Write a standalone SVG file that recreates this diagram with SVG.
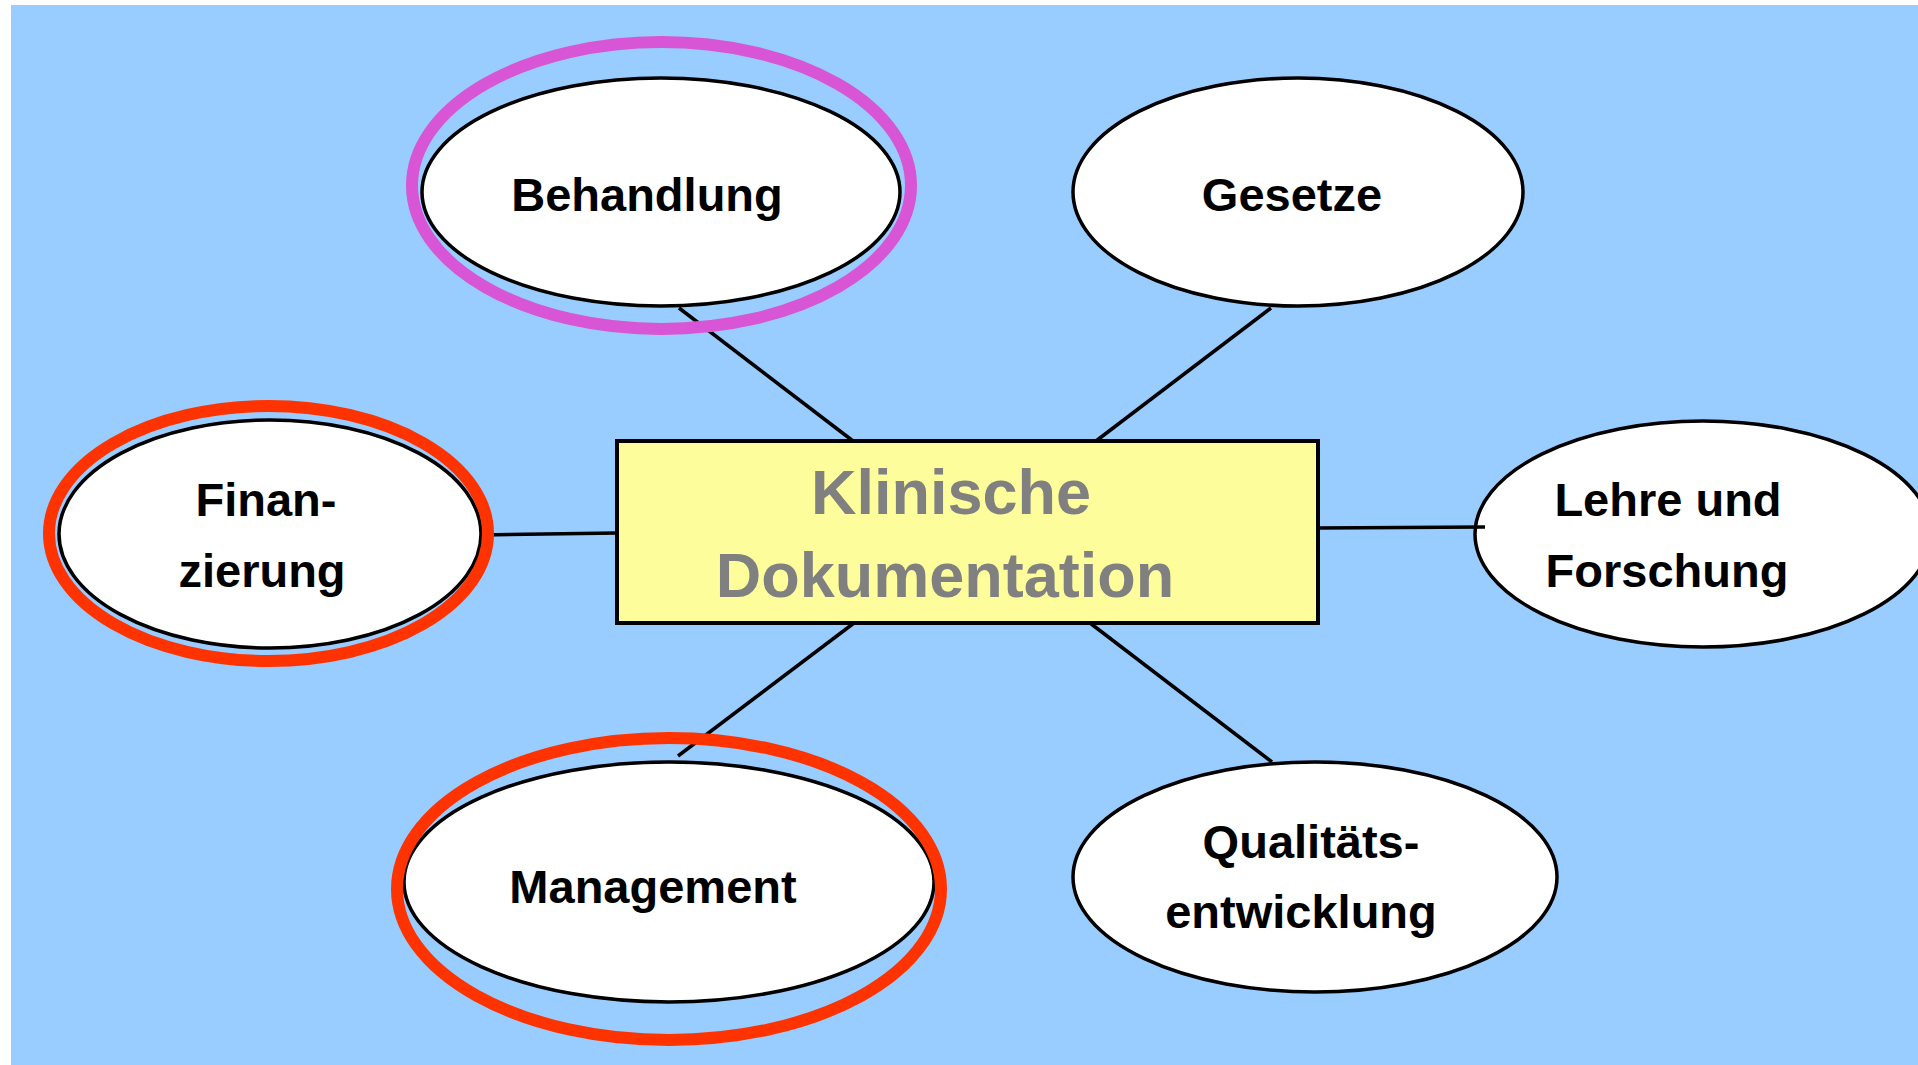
<svg xmlns="http://www.w3.org/2000/svg" width="1918" height="1065" viewBox="0 0 1918 1065">
<style>
.node{fill:#fff;stroke:#000;stroke-width:3.5}
.lbl{font-family:"Liberation Sans",Arial,sans-serif;font-weight:bold;font-size:47px;fill:#000;text-anchor:middle}
.title{font-family:"Liberation Sans",Arial,sans-serif;font-weight:bold;font-size:63px;fill:#808080;text-anchor:middle}
.conn line{stroke:#000;stroke-width:3.5}
.ring{fill:none;stroke-width:12}
</style>
<rect x="0" y="0" width="1918" height="1065" fill="#fff"/>
<rect x="11" y="5" width="1907" height="1060" fill="#99CCFF"/>
<g id="center">
<rect x="617" y="441" width="701" height="182" fill="#FDFD9B" stroke="#000" stroke-width="4"/>
<text class="title" x="951" y="514">Klinische</text>
<text class="title" x="945" y="597">Dokumentation</text>
</g>
<g id="behandlung">
<ellipse class="node" cx="661" cy="192" rx="239" ry="114"/>
<text class="lbl" x="647" y="211">Behandlung</text>
</g>
<g id="gesetze">
<ellipse class="node" cx="1298" cy="192" rx="225" ry="114"/>
<text class="lbl" x="1292" y="211">Gesetze</text>
</g>
<g id="finanzierung">
<ellipse class="node" cx="270" cy="534" rx="211" ry="114"/>
<text class="lbl" x="266" y="516">Finan-</text>
<text class="lbl" x="262" y="587">zierung</text>
</g>
<g id="lehre">
<ellipse class="node" cx="1703" cy="534" rx="228" ry="113"/>
<text class="lbl" x="1668" y="516">Lehre und</text>
<text class="lbl" x="1667" y="587">Forschung</text>
</g>
<g id="management">
<ellipse class="node" cx="669" cy="882" rx="265" ry="120"/>
<text class="lbl" x="653" y="903">Management</text>
</g>
<g id="qualitaet">
<ellipse class="node" cx="1315" cy="877" rx="242" ry="115"/>
<text class="lbl" x="1311" y="858">Qualitäts-</text>
<text class="lbl" x="1301" y="928">entwicklung</text>
</g>
<g id="connectors" class="conn">
<line x1="679" y1="308" x2="853" y2="441"/>
<line x1="1271" y1="308" x2="1096" y2="441"/>
<line x1="481" y1="535" x2="617" y2="533"/>
<line x1="1318" y1="528" x2="1485" y2="527"/>
<line x1="854" y1="623" x2="678" y2="756"/>
<line x1="1090" y1="623" x2="1272" y2="762"/>
</g>
<g id="highlights">
<ellipse class="ring" cx="661.5" cy="185.5" rx="249.5" ry="143.5" stroke="#D855D5"/>
<ellipse class="ring" cx="268.5" cy="533.5" rx="219.5" ry="127.5" stroke="#FF3300"/>
<ellipse class="ring" cx="669" cy="889" rx="272" ry="151" stroke="#FF3300"/>
</g>
</svg>
